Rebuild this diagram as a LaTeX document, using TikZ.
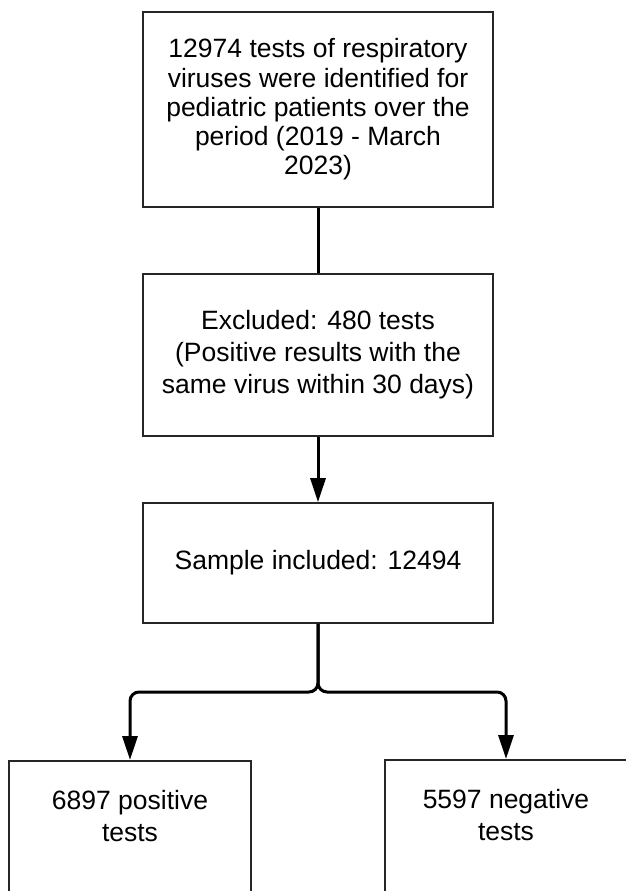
\documentclass[tikz,border=0pt]{standalone}
\usepackage{fontspec}
\setmainfont{Liberation Sans}
\usetikzlibrary{arrows.meta}
\begin{document}
\begin{tikzpicture}[x=1pt,y=-1pt,
  box/.style={draw=black!85,line width=1.6pt,fill=white,inner sep=0pt,align=center,text=black},
  conn/.style={line width=3pt,black},
  arr/.style={conn,-{Triangle[length=24pt,width=15pt]}},
  txtA/.style={font=\fontsize{26.5}{29.3}\selectfont},
  txtB/.style={font=\fontsize{26.5}{32}\selectfont}]
\path[use as bounding box,clip] (0,0) rectangle (626,891);
\fill[white] (0,0) rectangle (626,891);
\node[box,txtA,minimum width=350pt,minimum height=195pt] (b1) at (318,109.5)
  {12974 tests of respiratory\\viruses were identified for\\pediatric patients over the\\period (2019 - March\\2023)};
\node[box,txtB,minimum width=350pt,minimum height=162pt] (b2) at (318,355)
  {Excluded: 480 tests\\(Positive results with the\\same virus within 30 days)};
\node[box,txtB,minimum width=350pt,minimum height=120pt] (b3) at (318,563)
  {Sample included: 12494};
\node[box,minimum width=242pt,minimum height=200pt,anchor=north] (bl) at (130,760) {};
\node[box,minimum width=242pt,minimum height=200pt,anchor=north] (br) at (506,759) {};
\node[txtB,align=center,inner sep=0pt] (tl) at (130,816) {6897 positive\\tests};
\node[txtB,align=center,inner sep=0pt] (tr) at (506,815) {5597 negative\\tests};
\coordinate (j) at (318,692);
\draw[conn] (b1.south) -- (b2.north);
\draw[arr] (b2.south) -- (b3.north);
\draw[arr,rounded corners=9pt] (b3.south) -- (j) -| (bl.north);
\draw[arr,rounded corners=9pt] (b3.south) -- (j) -| (br.north);
\end{tikzpicture}
\end{document}
